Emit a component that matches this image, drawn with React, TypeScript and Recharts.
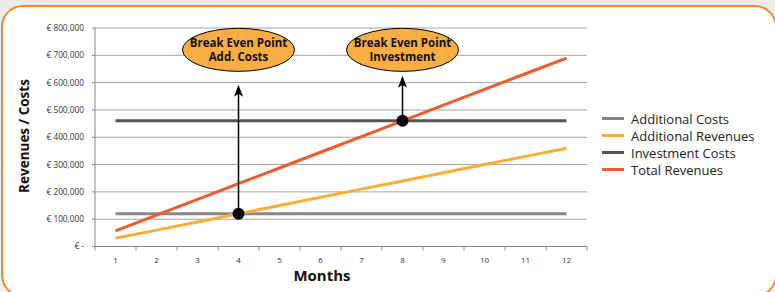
import React from "react";
import {
  CartesianGrid,
  Line,
  LineChart,
  ReferenceDot,
  ReferenceLine,
  XAxis,
  YAxis,
} from "recharts";

const months = [1, 2, 3, 4, 5, 6, 7, 8, 9, 10, 11, 12];
const additionalCosts = [120000, 120000, 120000, 120000, 120000, 120000, 120000, 120000, 120000, 120000, 120000, 120000];
const additionalRevenues = [30000, 60000, 90000, 120000, 150000, 180000, 210000, 240000, 270000, 300000, 330000, 360000];
const investmentCosts = [460000, 460000, 460000, 460000, 460000, 460000, 460000, 460000, 460000, 460000, 460000, 460000];
const totalRevenues = [57500, 115000, 172500, 230000, 287500, 345000, 402500, 460000, 517500, 575000, 632500, 690000];
const yTicks = [0, 100000, 200000, 300000, 400000, 500000, 600000, 700000, 800000];

// break even annotations: month, value where lines cross, arrow tip, bubble centre, text
const breakEvens = [
  { month: 4, value: 120000, arrowTo: 592000, bubble: 720000, lines: ["Break Even Point", "Add. Costs"] },
  { month: 8, value: 460000, arrowTo: 625000, bubble: 720000, lines: ["Break Even Point", "Investment"] },
];

const series = [
  { key: "addCosts", name: "Additional Costs", color: "#878787" },
  { key: "addRev", name: "Additional Revenues", color: "#fbad3a" },
  { key: "invCosts", name: "Investment Costs", color: "#555555" },
  { key: "totalRev", name: "Total Revenues", color: "#f15a2b" },
];

const data = months.map((m, i) => ({
  month: m,
  addCosts: additionalCosts[i],
  addRev: additionalRevenues[i],
  invCosts: investmentCosts[i],
  totalRev: totalRevenues[i],
}));

// labels on the months, tick marks on the boundaries between them
const xTicks = [...months.map((m) => m - 0.5), 12.5, ...months].sort((a, b) => a - b);

const FONT = "'Open Sans', 'Noto Sans', sans-serif";

function formatEuro(v: number) {
  if (v === 0) return "€ -";
  return "€ " + v.toLocaleString("en-US");
}

function MonthTick(props: any) {
  const { x, y, payload } = props;
  const v = payload.value;
  // y arrives 8px below the axis line
  if (!Number.isInteger(v)) {
    return <line x1={x} x2={x} y1={y - 8} y2={y - 4} stroke="#888" strokeWidth={1} />;
  }
  return (
    <text x={x} y={y + 8.5} textAnchor="middle" fontSize={8} fill="#333" fontFamily={FONT}>
      {v}
    </text>
  );
}

function Arrow(props: any) {
  const { x1, y1, x2, y2 } = props;
  const top = Math.min(y1, y2);
  const bottom = Math.max(y1, y2);
  return (
    <g>
      <line x1={x1} x2={x2} y1={bottom} y2={top + 8} stroke="#000" strokeWidth={1.5} />
      <polygon points={`${x1},${top} ${x1 - 4.5},${top + 12} ${x1},${top + 9} ${x1 + 4.5},${top + 12}`} fill="#000" />
    </g>
  );
}

function Bubble(lines: string[]) {
  return (props: any) => {
    const { cx, cy } = props;
    return (
      <g>
        <ellipse cx={cx} cy={cy} rx={56} ry={21.5} fill="#f8ae42" stroke="#000" strokeWidth={1} />
        <text x={cx} y={cy - 3} textAnchor="middle" fontSize={11.5} fontWeight={700} fill="#111" fontFamily={FONT}>
          {lines[0]}
        </text>
        <text x={cx} y={cy + 11} textAnchor="middle" fontSize={11.5} fontWeight={700} fill="#111" fontFamily={FONT}>
          {lines[1]}
        </text>
      </g>
    );
  };
}

function LegendBox() {
  return (
    <div style={{ position: "absolute", left: 602, top: 110, fontFamily: FONT, fontSize: 13, color: "#222" }}>
      {series.map((s) => (
        <div key={s.key} style={{ display: "flex", alignItems: "center", height: 17, whiteSpace: "nowrap" }}>
          <span style={{ display: "inline-block", width: 22, height: 3, background: s.color, marginRight: 7 }} />
          <span>{s.name}</span>
        </div>
      ))}
    </div>
  );
}

export default function App() {
  return (
    <div
      style={{
        position: "absolute",
        left: 0,
        top: 0,
        width: 775,
        height: 292,
        overflow: "hidden",
        background: "linear-gradient(180deg, #eaeaea 0%, #f3f3f3 100%)",
      }}
    >
      <div
        style={{
          position: "absolute",
          left: 1,
          top: 5,
          width: 776,
          height: 292,
          borderRadius: 22,
          border: "2px solid #f08a32",
          background: "#fff",
          boxSizing: "border-box",
        }}
      />
      <div style={{ position: "absolute", left: 0, top: 0 }}>
        <LineChart width={775} height={292} data={data} margin={{ top: 28, right: 188, bottom: 15.5, left: 0 }}>
          <CartesianGrid vertical={false} stroke="#a3a3a3" strokeWidth={1} />
          <XAxis
            dataKey="month"
            type="number"
            domain={[0.5, 12.5]}
            ticks={xTicks}
            interval={0}
            tick={<MonthTick />}
            tickLine={false}
            axisLine={{ stroke: "#888" }}
            height={30}
          />
          <YAxis
            width={95}
            domain={[0, 800000]}
            ticks={yTicks}
            interval={0}
            tickFormatter={formatEuro}
            tick={{ fontSize: 8.3, fill: "#333", fontFamily: FONT }}
            tickSize={3}
            tickMargin={8}
            tickLine={{ stroke: "#888" }}
            axisLine={{ stroke: "#888" }}
          />
          {series.map((s) => (
            <Line
              key={s.key}
              dataKey={s.key}
              name={s.name}
              stroke={s.color}
              strokeWidth={3}
              dot={false}
              type="linear"
              isAnimationActive={false}
            />
          ))}
          {breakEvens.map((b) => (
            <ReferenceLine
              key={"a" + b.month}
              segment={[
                { x: b.month, y: b.value },
                { x: b.month, y: b.arrowTo },
              ]}
              shape={<Arrow />}
            />
          ))}
          {breakEvens.map((b) => (
            <ReferenceDot key={"d" + b.month} x={b.month} y={b.value} r={6} fill="#000" stroke="none" />
          ))}
          {breakEvens.map((b) => (
            <ReferenceDot key={"b" + b.month} x={b.month} y={b.bubble} shape={Bubble(b.lines)} />
          ))}
        </LineChart>
      </div>
      <LegendBox />
      <svg width={775} height={292} style={{ position: "absolute", left: 0, top: 0, pointerEvents: "none" }}>
        <text
          transform="translate(29,136) rotate(-90)"
          textAnchor="middle"
          fontSize={13.5}
          fontWeight={700}
          fill="#111"
          fontFamily={FONT}
        >
          Revenues / Costs
        </text>
        <text x={322} y={281} textAnchor="middle" fontSize={15} fontWeight={700} fill="#111" fontFamily={FONT}>
          Months
        </text>
      </svg>
    </div>
  );
}
